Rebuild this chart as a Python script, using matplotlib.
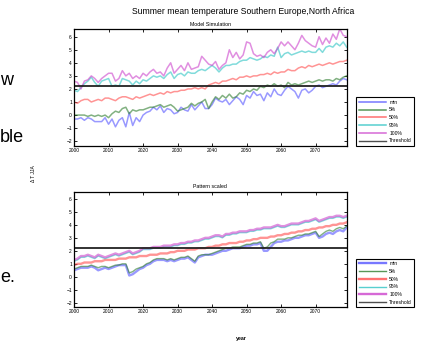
import numpy as np
import matplotlib
matplotlib.use("Agg")
import matplotlib.pyplot as plt

plt.rcParams['font.family'] = ['Liberation Sans', 'DejaVu Sans']

years = np.arange(2000, 2080)
threshold = 2.25
labels = ['min', '5%', '50%', '95%', '100%', 'Threshold']
colors = ['#5555ff', '#2e7d2e', '#ff4d4d', '#2ec4c4', '#cc44cc', '#222222']

# model simulation
sim_min = [-0.3, -0.3, -0.2, -0.4, -0.2, -0.3, -0.5, -0.5, -0.5, -0.2,
           -0.7, -0.3, -0.9, -0.4, -0.2, -0.9, 0.2, -0.8, -0.2, -0.5,
           0.0, 0.2, 0.3, 0.6, 0.4, 0.7, 0.2, 0.5, 0.4, 0.1,
           0.2, 0.6, 0.4, 0.3, 0.8, 0.4, 0.7, 1.0, 0.5, 0.5,
           0.8, 1.3, 1.1, 1.0, 1.2, 0.8, 1.1, 1.4, 1.2, 0.8,
           1.5, 1.3, 1.8, 1.5, 1.6, 1.1, 1.7, 1.4, 2.0, 1.6,
           1.5, 1.9, 2.2, 2.0, 1.8, 1.3, 1.9, 2.0, 1.7, 1.9,
           2.2, 2.3, 2.1, 2.2, 2.3, 2.4, 2.3, 2.6, 2.8, 2.7]
sim_p5 = [0.0, 0.0, 0.0, 0.0, -0.1, 0.0, -0.1, 0.0, -0.1, 0.0,
          -0.2, 0.1, 0.3, 0.2, 0.5, 0.6, 0.1, 0.4, 0.3, 0.4,
          0.4, 0.5, 0.6, 0.6, 0.7, 0.8, 0.6, 0.7, 0.8, 0.6,
          0.3, 0.4, 0.5, 0.6, 0.9, 0.7, 0.9, 1.0, 1.2, 0.5,
          1.0, 1.4, 1.2, 1.5, 1.3, 1.6, 1.3, 1.4, 1.7, 1.6,
          1.9, 1.8, 2.0, 1.9, 2.2, 2.1, 2.3, 2.2, 2.4, 2.2,
          2.3, 2.1, 2.5, 2.3, 2.4, 2.3, 2.4, 2.5, 2.6, 2.5,
          2.6, 2.7, 2.6, 2.7, 2.7, 2.6, 2.8, 2.7, 2.9, 3.0]
sim_p50 = [1.0, 0.9, 1.1, 1.2, 1.2, 1.0, 1.1, 1.2, 1.1, 1.3,
           1.3, 1.2, 1.1, 1.3, 1.4, 1.4, 1.3, 1.2, 1.4, 1.3,
           1.4, 1.5, 1.6, 1.5, 1.6, 1.7, 1.6, 1.8, 1.7, 1.8,
           1.8, 1.9, 1.9, 2.0, 2.0, 2.1, 2.0, 2.1, 2.0, 2.3,
           2.4, 2.5, 2.4, 2.6, 2.6, 2.7, 2.8, 2.7, 2.9, 2.9,
           3.0, 2.9, 3.0, 3.0, 3.1, 3.1, 3.2, 3.1, 3.3, 3.2,
           3.3, 3.3, 3.5, 3.4, 3.4, 3.6, 3.7, 3.6, 3.8, 3.7,
           3.8, 3.9, 3.8, 3.9, 4.0, 3.9, 4.0, 4.1, 4.1, 4.2]
sim_p95 = [1.9, 1.8, 2.1, 2.4, 2.6, 2.9, 2.5, 2.2, 2.6, 2.7,
           2.8, 2.2, 2.3, 2.2, 2.8, 2.7, 2.6, 2.3, 2.6, 2.4,
           2.7, 2.6, 2.8, 3.0, 2.9, 3.0, 2.8, 3.1, 3.3, 2.8,
           3.1, 3.2, 3.0, 3.3, 3.2, 3.2, 3.4, 3.5, 3.4, 3.6,
           3.8, 3.6, 3.3, 3.6, 3.8, 3.8, 3.9, 3.9, 4.1, 4.2,
           4.2, 4.4, 4.3, 4.2, 4.3, 4.5, 4.4, 4.6, 4.5, 5.2,
           4.4, 4.7, 4.8, 4.6, 4.7, 4.8, 4.9, 4.8, 4.9, 4.8,
           4.8, 5.1, 4.8, 5.2, 5.3, 5.2, 5.5, 5.3, 5.6, 5.2]
sim_max = [2.6, 2.5, 2.0, 2.6, 2.7, 3.0, 2.8, 2.5, 2.8, 3.0,
           3.2, 3.2, 2.6, 2.8, 3.4, 3.0, 3.2, 2.8, 3.0, 2.8,
           3.2, 3.0, 3.3, 3.5, 3.2, 3.3, 3.0, 3.6, 4.0, 3.2,
           3.5, 3.8, 3.4, 4.0, 3.5, 3.6, 3.7, 4.5, 4.2, 3.9,
           3.8, 4.1, 3.5, 3.8, 4.0, 5.0, 4.4, 4.8, 4.3, 4.6,
           5.6, 5.5, 4.7, 4.5, 4.6, 4.4, 4.8, 5.0, 4.7, 5.1,
           5.6, 5.3, 5.6, 5.3, 5.0, 5.5, 6.1, 5.7, 5.5, 5.3,
           5.2, 6.0, 5.4, 5.9, 5.5, 6.2, 5.8, 6.6, 6.1, 6.0]

# pattern scaled
pat_min = [0.5, 0.6, 0.7, 0.7, 0.7, 0.8, 0.7, 0.5, 0.6, 0.7,
           0.6, 0.7, 0.8, 0.9, 0.9, 0.9, 0.1, 0.2, 0.4, 0.6,
           0.7, 0.9, 1.0, 1.2, 1.3, 1.3, 1.3, 1.2, 1.3, 1.2,
           1.3, 1.4, 1.4, 1.5, 1.3, 1.1, 1.5, 1.6, 1.7, 1.7,
           1.7, 1.8, 1.9, 2.0, 2.0, 2.1, 2.2, 2.2, 2.2, 2.3,
           2.4, 2.4, 2.5, 2.5, 2.6, 2.0, 2.0, 2.3, 2.6, 2.7,
           2.7, 2.8, 2.8, 2.9, 3.0, 3.0, 3.1, 3.2, 3.2, 3.3,
           3.4, 3.0, 3.1, 3.3, 3.4, 3.3, 3.5, 3.6, 3.5, 3.8]
pat_p5 = [0.6, 0.7, 0.8, 0.8, 0.8, 0.9, 0.8, 0.7, 0.8, 0.8,
          0.7, 0.8, 0.9, 0.9, 1.0, 1.0, 0.3, 0.4, 0.6, 0.7,
          0.8, 1.0, 1.1, 1.3, 1.4, 1.4, 1.4, 1.3, 1.4, 1.3,
          1.4, 1.5, 1.5, 1.6, 1.4, 1.2, 1.6, 1.7, 1.7, 1.7,
          1.8, 1.9, 2.0, 2.1, 2.2, 2.2, 2.3, 2.3, 2.3, 2.4,
          2.5, 2.5, 2.6, 2.6, 2.7, 2.2, 2.3, 2.6, 2.7, 2.9,
          2.9, 2.9, 3.0, 3.0, 3.1, 3.2, 3.2, 3.3, 3.3, 3.4,
          3.5, 3.1, 3.3, 3.5, 3.6, 3.5, 3.7, 3.8, 3.7, 3.9]
pat_p50 = [0.9, 1.0, 1.0, 1.1, 1.1, 1.1, 1.2, 1.2, 1.2, 1.3,
           1.3, 1.3, 1.3, 1.4, 1.4, 1.4, 1.5, 1.5, 1.5, 1.6,
           1.6, 1.6, 1.7, 1.7, 1.7, 1.8, 1.8, 1.8, 1.9, 1.9,
           2.0, 2.0, 2.0, 2.1, 2.1, 2.1, 2.2, 2.2, 2.2, 2.3,
           2.3, 2.4, 2.4, 2.5, 2.5, 2.6, 2.6, 2.6, 2.7, 2.7,
           2.8, 2.8, 2.9, 2.9, 3.0, 3.0, 3.0, 3.1, 3.1, 3.2,
           3.2, 3.3, 3.3, 3.4, 3.4, 3.5, 3.5, 3.6, 3.6, 3.7,
           3.7, 3.8, 3.8, 3.9, 3.9, 4.0, 4.0, 4.1, 4.1, 4.2]
pat_p95 = [1.2, 1.3, 1.5, 1.5, 1.6, 1.5, 1.4, 1.6, 1.5, 1.4,
           1.5, 1.6, 1.7, 1.6, 1.7, 1.8, 1.9, 1.7, 1.8, 1.9,
           2.1, 2.1, 2.1, 2.2, 2.2, 2.2, 2.3, 2.3, 2.3, 2.4,
           2.4, 2.5, 2.5, 2.6, 2.6, 2.7, 2.7, 2.8, 2.9, 2.9,
           3.0, 3.1, 3.1, 3.0, 3.2, 3.2, 3.3, 3.3, 3.4, 3.4,
           3.4, 3.5, 3.5, 3.6, 3.6, 3.7, 3.7, 3.7, 3.8, 3.9,
           3.8, 3.8, 3.9, 4.0, 4.0, 4.0, 4.1, 4.2, 4.2, 4.3,
           4.4, 4.2, 4.3, 4.4, 4.5, 4.5, 4.6, 4.6, 4.5, 4.6]
pat_max = [1.3, 1.4, 1.6, 1.6, 1.7, 1.6, 1.5, 1.7, 1.6, 1.5,
           1.6, 1.7, 1.8, 1.7, 1.8, 1.9, 2.0, 1.8, 1.9, 2.0,
           2.2, 2.2, 2.2, 2.3, 2.3, 2.3, 2.4, 2.4, 2.4, 2.5,
           2.5, 2.6, 2.6, 2.7, 2.7, 2.8, 2.8, 2.9, 3.0, 3.0,
           3.1, 3.2, 3.2, 3.1, 3.3, 3.3, 3.4, 3.4, 3.5, 3.5,
           3.5, 3.6, 3.6, 3.7, 3.7, 3.8, 3.8, 3.8, 3.9, 4.0,
           3.9, 3.9, 4.0, 4.1, 4.1, 4.1, 4.2, 4.3, 4.3, 4.4,
           4.5, 4.3, 4.4, 4.5, 4.6, 4.6, 4.7, 4.7, 4.6, 4.7]

sim = [sim_min, sim_p5, sim_p50, sim_p95, sim_max]
pat = [pat_min, pat_p5, pat_p50, pat_p95, pat_max]

fig = plt.figure(figsize=(4.28, 3.43), dpi=100)
ax1 = fig.add_axes([0.173, 0.575, 0.637, 0.339])
ax2 = fig.add_axes([0.173, 0.104, 0.637, 0.337])


def draw_panel(ax, series, title, widths):
    for vals, c, lab, lw in zip(series, colors, labels, widths):
        ax.plot(years, vals, color=c, lw=lw, alpha=0.6, label=lab)
    ax.axhline(threshold, color=colors[5], lw=1.3, label=labels[5])
    ax.set_xlim(2000, 2079)
    ax.set_ylim(-2.35, 6.55)
    ax.set_xticks(np.arange(2000, 2080, 10))
    ax.set_yticks(np.arange(-2, 7, 1))
    ax.tick_params(direction='in', length=2, width=0.6, labelsize=3.5,
                   top=True, right=True, pad=1.5)
    for s in ax.spines.values():
        s.set_linewidth(0.9)
    ax.set_title(title, fontsize=3.8, pad=2.5)
    leg = ax.legend(loc='lower left', bbox_to_anchor=(1.035, 0.0),
                    fontsize=3.6, handlelength=5.5, labelspacing=0.55,
                    borderaxespad=0, fancybox=False, framealpha=1,
                    handletextpad=0.6, borderpad=0.5)
    leg.get_frame().set_edgecolor('black')
    leg.get_frame().set_linewidth(0.8)
    for ln, lw in zip(leg.get_lines(), list(widths) + [1.0]):
        ln.set_alpha(0.8)
        ln.set_linewidth(lw)


draw_panel(ax1, sim, 'Model Simulation', [1.1, 1.1, 1.1, 1.1, 1.1])
draw_panel(ax2, pat, 'Pattern scaled', [1.7, 1.0, 1.7, 1.0, 1.7])

fig.text(0.568, 0.966, 'Summer mean temperature Southern Europe,North Africa',
         fontsize=6.2, ha='center', va='center')
fig.text(0.078, 0.495, 'Δ T JJA', fontsize=3.6, rotation=90,
         ha='center', va='center')
fig.text(0.565, 0.012, 'year', fontsize=3.8, fontweight='bold',
         ha='center', va='center')

# cut-off slide text on the left
fig.text(0.0, 0.765, 'w', fontsize=13, ha='left', va='center')
fig.text(0.0, 0.6, 'ble', fontsize=13, ha='left', va='center')
fig.text(0.0, 0.19, 'e.', fontsize=13, ha='left', va='center')

fig.savefig('out.png', dpi=100)
